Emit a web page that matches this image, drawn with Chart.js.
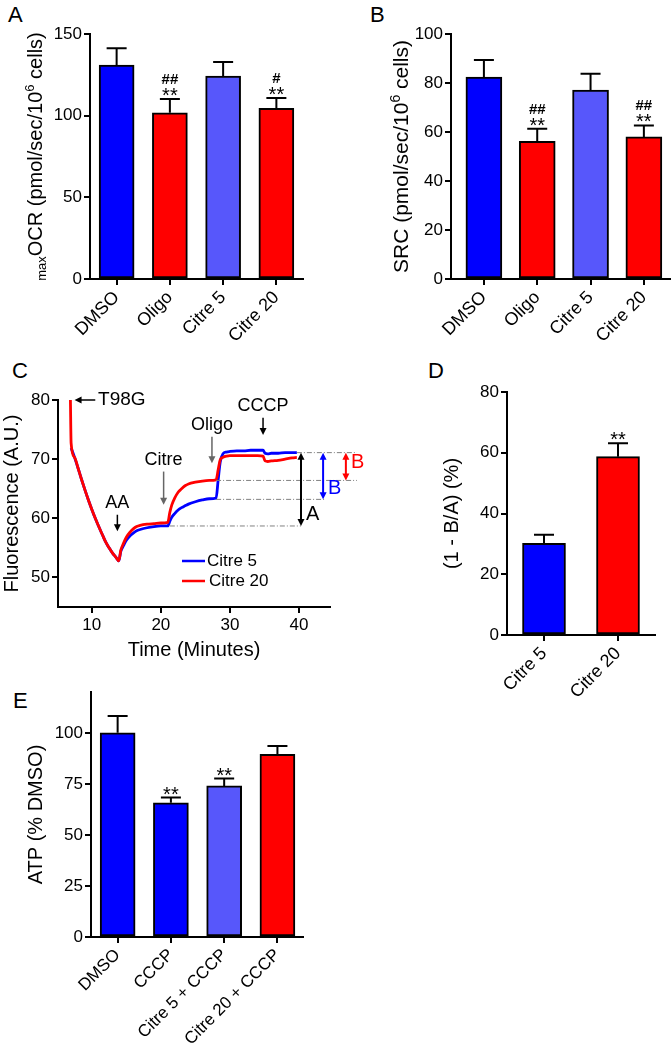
<!DOCTYPE html>
<html>
<head>
<meta charset="utf-8">
<script src="https://cdn.jsdelivr.net/npm/chart.js@4.4.0/dist/chart.umd.min.js"></script>
<style>
  body { margin: 0; background: #fff; width: 672px; height: 1045px; position: relative; overflow: hidden;
         font-family: 'Liberation Sans', Arial, Helvetica, sans-serif; }
  canvas { position: absolute; }
  .panel { position: absolute; font-size: 22px; line-height: 22px; color: #000; }
</style>
</head>
<body>
<div class="panel" style="left:8px;top:4px">A</div>
<div class="panel" style="left:370px;top:4px">B</div>
<div class="panel" style="left:12px;top:360px">C</div>
<div class="panel" style="left:428px;top:360px">D</div>
<div class="panel" style="left:13px;top:690px">E</div>

<canvas id="chartA" width="336" height="360" style="left:0;top:0"></canvas>
<canvas id="chartB" width="336" height="360" style="left:336px;top:0"></canvas>
<canvas id="chartC" width="400" height="310" style="left:0;top:360px"></canvas>
<canvas id="chartD" width="272" height="340" style="left:400px;top:360px"></canvas>
<canvas id="chartE" width="336" height="375" style="left:0;top:670px"></canvas>

<script>
// ---- data ----
const groupsAB = ['DMSO', 'Oligo', 'Citre 5', 'Citre 20'];
const maxOcr = [130.9, 101.8, 124.3, 104.5];
const maxOcrTop = [141.2, 110.2, 132.9, 110.8];   // mean + SEM
const maxOcrStars = ['', '**', '', '**'];
const maxOcrHash = ['', '##', '', '#'];

const srcValues = [82.4, 56.2, 77.1, 58.0];
const srcTop = [89.4, 61.3, 83.8, 62.7];
const srcStars = ['', '**', '', '**'];
const srcHash = ['', '##', '', '##'];

// panel C traces (time in minutes, fluorescence in A.U.)
const timeC = [6.9, 7.0, 7.5, 8, 8.5, 9, 9.5, 10, 10.5, 11, 11.5, 12, 12.5, 13, 13.5, 13.9,
  14.2, 14.6, 15, 15.5, 16, 16.5, 17, 18, 19, 20, 21, 21.3, 21.6, 22, 22.5, 23, 23.5, 24,
  25, 26, 27, 28, 28.3, 28.6, 29, 29.5, 30, 31, 32, 33, 34, 34.8, 35.1, 35.5, 36, 37, 38, 39, 39.7];
const citre5Trace = [null, 71.9, 70.3, 68.5, 66.6, 64.8, 63.1, 61.5, 60.0, 58.6, 57.3, 56.0, 55.0, 54.1, 53.4, 52.8,
  54.4, 55.4, 56.3, 57.0, 57.5, 57.9, 58.1, 58.4, 58.6, 58.7, 58.7, 59.5, 60.2, 60.8, 61.4, 61.8, 62.1, 62.4,
  62.8, 63.1, 63.3, 63.4, 66.5, 69.5, 70.9, 71.2, 71.3, 71.4, 71.4, 71.5, 71.5, 71.5, 71.0, 70.9, 71.0, 71.0, 71.1, 71.1, 71.1];
const citre20Trace = [80, 72.7, 70.3, 68.5, 66.6, 64.8, 63.1, 61.5, 60.0, 58.6, 57.3, 56.0, 55.0, 54.1, 53.4, 52.8,
  54.6, 55.8, 56.8, 57.6, 58.2, 58.6, 58.8, 59.0, 59.1, 59.2, 59.3, 61.0, 62.3, 63.4, 64.4, 65.0, 65.5, 65.8,
  66.1, 66.3, 66.4, 66.5, 68.2, 69.9, 70.3, 70.5, 70.6, 70.6, 70.6, 70.6, 70.6, 70.5, 69.7, 69.6, 69.7, 69.8, 70.0, 70.2, 70.3];
const timeTicks = [10, 20, 30, 40];
const fluoTicks = [50, 60, 70, 80];

// event labels on panel C: text, time, text level, arrow from, arrow to
const eventNames = ['AA', 'Citre', 'Oligo', 'CCCP'];
const eventTime = [13.7, 20.4, 27.4, 34.8];
const eventTextLevel = [62.6, 69.9, 75.8, 78.9];
const eventArrowFrom = [60.6, 67.9, 73.8, 77.0];
const eventArrowTo = [57.8, 62.3, 69.3, 74.1];
const eventArrowGray = [false, true, true, false];

// dash-dot reference levels and the A / B brackets
const refLevels = [71.1, 66.4, 63.2, 58.7];
const refFrom = [39.7, 28.0, 28.0, 21.3];
const refTo = [48.4, 48.4, 43.8, 40.3];
const bracketNames = ['A', 'B', 'B'];
const bracketTime = [40.3, 43.5, 46.8];
const bracketTop = [71.1, 71.1, 71.1];
const bracketBottom = [58.7, 63.2, 66.4];
const bracketLabelLevel = [60.6, 65.0, 69.4];

const groupsD = ['Citre 5', 'Citre 20'];
const ratioD = [30.2, 58.7];
const ratioDTop = [33.0, 63.1];
const ratioDStars = ['', '**'];

const groupsE = ['DMSO', 'CCCP', 'Citre 5 + CCCP', 'Citre 20 + CCCP'];
const atpValues = [100, 65.7, 74.0, 89.5];
const atpTop = [108.2, 68.3, 77.6, 93.6];
const atpStars = ['', '**', '**', ''];

// ---- style ----
const FONT = "'Liberation Sans', Arial, Helvetica, sans-serif";
const BLUE = '#0000ff', RED = '#ff0000', LIGHT = '#5757fb';
Chart.defaults.font.family = FONT;
Chart.defaults.color = '#000';

function errorBars(tops, stars, hashes) {
  return {
    id: 'errorBars',
    afterDatasetsDraw(chart) {
      const ctx = chart.ctx, y = chart.scales.y;
      ctx.save();
      ctx.strokeStyle = '#000';
      ctx.fillStyle = '#000';
      ctx.lineWidth = 2;
      ctx.textAlign = 'center';
      chart.getDatasetMeta(0).data.forEach((bar, i) => {
        const top = y.getPixelForValue(tops[i]);
        ctx.beginPath();
        ctx.moveTo(bar.x, bar.y);
        ctx.lineTo(bar.x, top);
        ctx.moveTo(bar.x - 10, top);
        ctx.lineTo(bar.x + 10, top);
        ctx.stroke();
        if (stars[i]) {
          ctx.font = '20px ' + FONT;
          ctx.fillText(stars[i], bar.x, top + 3);
        }
        if (hashes && hashes[i]) {
          ctx.font = 'bold 15px ' + FONT;
          ctx.fillText(hashes[i], bar.x, top - 15);
        }
      });
      ctx.restore();
    }
  };
}

// y title with sub/superscript pieces
function richYTitle(parts, baseX) {
  return {
    id: 'richYTitle',
    afterDraw(chart) {
      const ctx = chart.ctx, area = chart.chartArea;
      ctx.save();
      let total = 0;
      parts.forEach(p => { ctx.font = p.size + 'px ' + FONT; total += ctx.measureText(p.text).width; });
      ctx.translate(baseX, (area.top + area.bottom) / 2);
      ctx.rotate(-Math.PI / 2);
      ctx.fillStyle = '#000';
      let cx = -total / 2;
      parts.forEach(p => {
        ctx.font = p.size + 'px ' + FONT;
        ctx.fillText(p.text, cx, p.shift || 0);
        cx += ctx.measureText(p.text).width;
      });
      ctx.restore();
    }
  };
}

function axisStyle() {
  return {
    offset: false,
    grid: { offset: false, drawOnChartArea: false, tickLength: 6, color: '#000', lineWidth: 2 },
    border: { color: '#000', width: 2 }
  };
}

// fixed axis box sizes, no extra room for overhanging labels
function fixSize(w, h) {
  return s => {
    if (w !== null) s.width = w;
    if (h !== null) s.height = h;
    s.paddingLeft = 0; s.paddingRight = 0; s.paddingTop = 0; s.paddingBottom = 0;
  };
}

function barPanel(id, cfg) {
  const x = Object.assign(axisStyle(), {
    type: 'linear', min: cfg.xMin, max: cfg.xMax,
    afterFit: fixSize(null, cfg.xHeight),
    afterBuildTicks: s => { s.ticks = cfg.labels.map((_, i) => ({ value: i })); },
    ticks: { callback: v => cfg.labels[v], minRotation: 45, maxRotation: 45, autoSkip: false, padding: 2,
             font: { size: cfg.xFont || 18 } }
  });
  const y = Object.assign(axisStyle(), {
    min: 0, max: cfg.yMax,
    afterFit: fixSize(cfg.yWidth, null),
    afterBuildTicks: s => { s.ticks = s.ticks.filter(t => t.value % cfg.step === 0); },
    ticks: { stepSize: cfg.step, padding: 2, font: { size: 17 } },
    title: cfg.yTitle || { display: false }
  });
  const plugins = [errorBars(cfg.tops, cfg.stars, cfg.hashes)];
  if (cfg.richTitle) plugins.push(cfg.richTitle);
  return new Chart(document.getElementById(id), {
    type: 'bar',
    data: {
      datasets: [{
        data: cfg.values.map((v, i) => ({ x: i, y: v })),
        backgroundColor: cfg.colors,
        borderColor: '#000',
        borderWidth: 2,
        borderSkipped: false,
        barThickness: cfg.barWidth
      }]
    },
    options: {
      responsive: false,
      animation: false,
      layout: { padding: cfg.padding },
      plugins: { legend: { display: false }, tooltip: { enabled: false } },
      scales: { x, y }
    },
    plugins
  });
}

// A
barPanel('chartA', {
  labels: groupsAB, values: maxOcr, tops: maxOcrTop, stars: maxOcrStars, hashes: maxOcrHash,
  colors: [BLUE, RED, LIGHT, RED], barWidth: 35,
  xMin: -0.5, xMax: 3.5, yMax: 150, step: 50,
  xHeight: 81, yWidth: 90, padding: { left: 0, top: 34, right: 33, bottom: 0 },
  richTitle: richYTitle([
    { text: 'max', size: 13, shift: 4 },
    { text: 'OCR (pmol/sec/10', size: 20 },
    { text: '6', size: 13, shift: -8 },
    { text: ' cells)', size: 20 }
  ], 42)
});

// B
barPanel('chartB', {
  labels: groupsAB, values: srcValues, tops: srcTop, stars: srcStars, hashes: srcHash,
  colors: [BLUE, RED, LIGHT, RED], barWidth: 36,
  xMin: -0.617, xMax: 3.49, yMax: 100, step: 20,
  xHeight: 81, yWidth: 115, padding: { left: 0, top: 34, right: 2, bottom: 0 },
  richTitle: richYTitle([
    { text: 'SRC (pmol/sec/10', size: 21 },
    { text: '6', size: 14, shift: -8 },
    { text: ' cells)', size: 21 }
  ], 72)
});

// C
const annotC = {
  id: 'annotC',
  afterDatasetsDraw(chart) {
    const ctx = chart.ctx, x = chart.scales.x, y = chart.scales.y, area = chart.chartArea;
    const px = v => x.getPixelForValue(v), py = v => y.getPixelForValue(v);
    const head = (hx, hy, dir, color) => {   // dir: 1 down, -1 up, 2 left
      ctx.fillStyle = color;
      ctx.beginPath();
      if (dir === 2) {
        ctx.moveTo(hx, hy); ctx.lineTo(hx + 7, hy - 3.5); ctx.lineTo(hx + 7, hy + 3.5);
      } else {
        ctx.moveTo(hx, hy); ctx.lineTo(hx - 3.5, hy - 7 * dir); ctx.lineTo(hx + 3.5, hy - 7 * dir);
      }
      ctx.closePath();
      ctx.fill();
    };
    ctx.save();

    // reference levels
    ctx.strokeStyle = '#808080';
    ctx.lineWidth = 1;
    ctx.setLineDash([5, 2, 1, 2]);
    refLevels.forEach((lv, i) => {
      ctx.beginPath();
      ctx.moveTo(px(refFrom[i]), py(lv));
      ctx.lineTo(px(refTo[i]), py(lv));
      ctx.stroke();
    });
    ctx.setLineDash([]);

    // A / B brackets
    const bracketColors = ['#000', BLUE, RED];
    bracketNames.forEach((name, i) => {
      const bx = px(bracketTime[i]), t = py(bracketTop[i]), b = py(bracketBottom[i]);
      ctx.strokeStyle = bracketColors[i];
      ctx.lineWidth = 2;
      ctx.beginPath(); ctx.moveTo(bx, t + 5); ctx.lineTo(bx, b - 5); ctx.stroke();
      head(bx, t, -1, bracketColors[i]);
      head(bx, b, 1, bracketColors[i]);
      ctx.fillStyle = bracketColors[i];
      ctx.font = '20px ' + FONT;
      ctx.textAlign = 'left';
      ctx.textBaseline = 'middle';
      ctx.fillText(name, bx + 5, py(bracketLabelLevel[i]));
    });

    // T98G
    ctx.strokeStyle = '#000';
    ctx.lineWidth = 1.5;
    const ty = py(80);
    ctx.beginPath(); ctx.moveTo(px(7.9), ty); ctx.lineTo(px(10.5), ty); ctx.stroke();
    head(px(7.5), ty, 2, '#000');
    ctx.fillStyle = '#000';
    ctx.font = '19px ' + FONT;
    ctx.textAlign = 'left';
    ctx.textBaseline = 'middle';
    ctx.fillText('T98G', px(10.9), ty);

    // event arrows
    eventNames.forEach((name, i) => {
      const ex = px(eventTime[i]);
      const color = eventArrowGray[i] ? '#666' : '#000';
      ctx.fillStyle = '#000';
      ctx.font = '18px ' + FONT;
      ctx.textAlign = 'center';
      ctx.textBaseline = 'middle';
      ctx.fillText(name, ex, py(eventTextLevel[i]));
      ctx.strokeStyle = color;
      ctx.lineWidth = 1.5;
      ctx.beginPath(); ctx.moveTo(ex, py(eventArrowFrom[i])); ctx.lineTo(ex, py(eventArrowTo[i]) - 5); ctx.stroke();
      head(ex, py(eventArrowTo[i]), 1, color);
    });

    // legend
    chart.data.datasets.forEach((ds, i) => {
      const ly = area.top + 161 + i * 20;
      const lx = area.left + 124;
      ctx.strokeStyle = ds.borderColor;
      ctx.lineWidth = 2.5;
      ctx.beginPath(); ctx.moveTo(lx, ly); ctx.lineTo(lx + 23, ly); ctx.stroke();
      ctx.fillStyle = '#000';
      ctx.font = '17px ' + FONT;
      ctx.textAlign = 'left';
      ctx.textBaseline = 'middle';
      ctx.fillText(ds.label, lx + 25 + i * 2, ly);
    });
    ctx.restore();
  }
};

new Chart(document.getElementById('chartC'), {
  type: 'line',
  data: {
    datasets: [
      { label: 'Citre 5', data: timeC.map((t, i) => ({ x: t, y: citre5Trace[i] })), borderColor: BLUE,
        borderWidth: 2.8, pointRadius: 0, order: 2, cubicInterpolationMode: 'monotone', spanGaps: true, clip: false },
      { label: 'Citre 20', data: timeC.map((t, i) => ({ x: t, y: citre20Trace[i] })), borderColor: RED,
        borderWidth: 2.8, pointRadius: 0, order: 1, cubicInterpolationMode: 'monotone', spanGaps: true, clip: false }
    ]
  },
  options: {
    responsive: false,
    animation: false,
    layout: { padding: { left: 0, top: 40, right: 70, bottom: 0 } },
    plugins: { legend: { display: false }, tooltip: { enabled: false } },
    scales: {
      x: Object.assign(axisStyle(), {
        type: 'linear', min: 5.1, max: 44.5,
        afterFit: fixSize(null, 63),
        afterBuildTicks: s => { s.ticks = timeTicks.map(v => ({ value: v })); },
        ticks: { maxRotation: 0, padding: 2, font: { size: 17 } },
        title: { display: true, text: 'Time (Minutes)', font: { size: 20 }, padding: { top: 0, bottom: 8 } }
      }),
      y: Object.assign(axisStyle(), {
        min: 45, max: 80,
        afterFit: fixSize(58, null),
        afterBuildTicks: s => { s.ticks = fluoTicks.map(v => ({ value: v })); },
        ticks: { padding: 2, font: { size: 17 } },
        title: { display: true, text: 'Fluorescence (A.U.)', font: { size: 20 }, padding: { top: 0, bottom: 0 } }
      })
    }
  },
  plugins: [annotC]
});

// D
barPanel('chartD', {
  labels: groupsD, values: ratioD, tops: ratioDTop, stars: ratioDStars, hashes: null,
  colors: [BLUE, RED], barWidth: 43,
  xMin: -0.5, xMax: 1.5, yMax: 80, step: 20,
  xHeight: 65, yWidth: 107, padding: { left: 0, top: 32, right: 17, bottom: 0 },
  yTitle: { display: true, text: '(1 - B/A) (%)', font: { size: 20 }, padding: { top: 40, bottom: 0 } }
});

// E
barPanel('chartE', {
  labels: groupsE, values: atpValues, tops: atpTop, stars: atpStars, hashes: null,
  colors: [BLUE, BLUE, LIGHT, RED], barWidth: 35, xFont: 17,
  xMin: -0.5, xMax: 3.48, yMax: 120, step: 25,
  xHeight: 108, yWidth: 91, padding: { left: 0, top: 22, right: 33, bottom: 0 },
  yTitle: { display: true, text: 'ATP (% DMSO)', font: { size: 20 }, padding: { top: 24, bottom: 0 } }
});
</script>
</body>
</html>
